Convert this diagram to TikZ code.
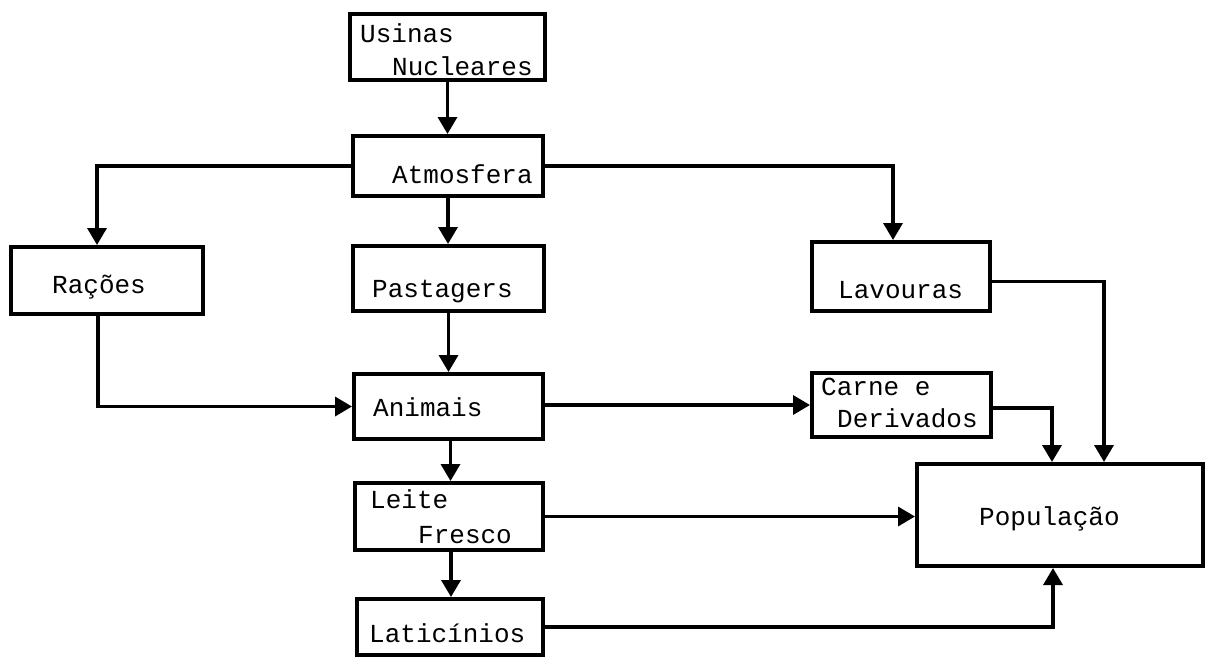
\documentclass[tikz,border=0pt]{standalone}
\usepackage{fontspec}
\setmonofont{Liberation Mono}
\usetikzlibrary{arrows.meta,calc}
\begin{document}
\begin{tikzpicture}[x=1pt,y=-1pt,
  box/.style={draw,line width=4pt,minimum width=#1,inner sep=0pt,fill=white},
  txt/.style={anchor=base west,inner sep=0pt,font=\ttfamily\fontsize{26}{28}\selectfont},
  conn/.style={line width=3.5pt,-{Triangle[length=17pt,width=19pt]}},
  plain/.style={line width=3.5pt}]
\useasboundingbox (0,0) rectangle (1207,657);
% boxes
\node[box=195pt,minimum height=66pt] (usinas) at (447.5,47) {};
\node[box=190pt,minimum height=60pt] (atmos) at (448,166) {};
\node[box=192pt,minimum height=67pt] (racoes) at (107,280.5) {};
\node[box=191pt,minimum height=65pt] (pastag) at (448.5,278.5) {};
\node[box=178pt,minimum height=69pt] (lavouras) at (901,276.5) {};
\node[box=189pt,minimum height=65pt] (animais) at (448.5,406.5) {};
\node[box=179pt,minimum height=64pt] (carne) at (901.5,405) {};
\node[box=286pt,minimum height=102pt] (pop) at (1060,515) {};
\node[box=188pt,minimum height=67pt] (leite) at (449,516.5) {};
\node[box=186pt,minimum height=56pt] (latic) at (450,627) {};
% texts
\node[txt] (t1) at (360,42) {Usinas};
\node[txt] (t2) at (392,75) {Nucleares};
\node[txt] (t3) at (392,183) {Atmosfera};
\node[txt] (t4) at (52,293) {Rações};
\node[txt] (t5) at (372,297) {Pastagers};
\node[txt] (t6) at (838,298) {Lavouras};
\node[txt] (t7) at (373,416) {Animais};
\node[txt] (t8) at (821,395) {Carne e};
\node[txt] (t9) at (837,427) {Derivados};
\node[txt] (t10) at (370,508) {Leite};
\node[txt] (t11) at (418,543) {Fresco};
\node[txt] (t12) at (369,642) {Laticínios};
\node[txt] (t13) at (979,525) {População};
% connectors
\draw[conn] (usinas.south) -- (usinas.south |- atmos.north);
\draw[conn] (atmos.west) -| ([xshift=-10pt]racoes.north);
\draw[conn] (atmos.east) -| ([xshift=-8pt]lavouras.north);
\draw[conn] (atmos.south) -- (atmos.south |- pastag.north);
\draw[conn] (pastag.south) -- (pastag.south |- animais.north);
\draw[conn] ([xshift=-9pt]racoes.south) |- (animais.west);
\draw[conn] (animais.east |- carne.west) -- (carne.west);
\draw[conn] ([yshift=-3pt]carne.east) -| ([xshift=-8pt]pop.north);
\draw[conn] ([yshift=-5pt]lavouras.east) -| ([xshift=44pt]pop.north);
\draw[conn] ([xshift=2pt]animais.south) -- ([xshift=2pt]animais.south |- leite.north);
\draw[conn] (leite.east) -- (leite.east -| pop.west);
\draw[conn] ([xshift=2pt]leite.south) -- ([xshift=2pt]leite.south |- latic.north);
\draw[conn] (latic.east) -| ([xshift=-7pt]pop.south);
\end{tikzpicture}
\end{document}
